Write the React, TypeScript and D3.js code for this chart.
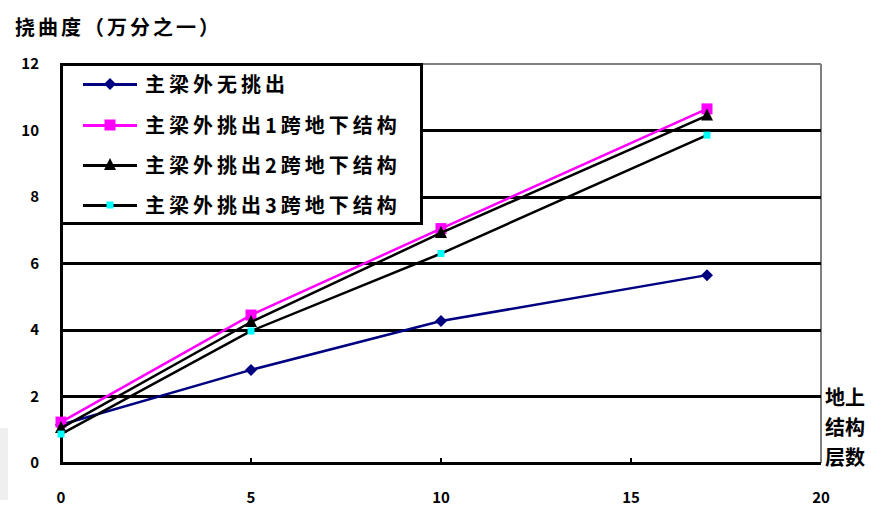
import React from "react";
import * as d3 from "d3";

// Deflection ratio of the main girder vs. number of storeys above ground
const xValues = [0, 5, 10, 17];
const seriesNames = [
  "主梁外无挑出",
  "主梁外挑出1跨地下结构",
  "主梁外挑出2跨地下结构",
  "主梁外挑出3跨地下结构",
];
const noCantilever = [1.15, 2.8, 4.27, 5.65];
const cantilever1 = [1.23, 4.45, 7.05, 10.65];
const cantilever2 = [1.05, 4.24, 6.92, 10.45];
const cantilever3 = [0.87, 3.97, 6.3, 9.86];

const xTicks = [0, 5, 10, 15, 20];
const xTickLabels = ["0", "5", "10", "15", "20"];
const yTicks = [0, 2, 4, 6, 8, 10, 12];
const yTitle = "挠曲度（万分之一）";
const xTitleLines = ["地上", "结构", "层数"];

const W = 871;
const H = 506;
const FONT = "'Noto Sans CJK SC', 'Noto Sans', sans-serif";

type Marker = "diamond" | "square" | "triangle" | "smallsquare";
const styles: { line: string; fill: string; marker: Marker }[] = [
  { line: "#000080", fill: "#000080", marker: "diamond" },
  { line: "#ff00ff", fill: "#ff00ff", marker: "square" },
  { line: "#000000", fill: "#000000", marker: "triangle" },
  { line: "#000000", fill: "#00ffff", marker: "smallsquare" },
];

function MarkerShape({ kind, cx, cy, fill }: { kind: Marker; cx: number; cy: number; fill: string }) {
  if (kind === "diamond") {
    const s = 6;
    return <path d={`M${cx},${cy - s}L${cx + s},${cy}L${cx},${cy + s}L${cx - s},${cy}Z`} fill={fill} />;
  }
  if (kind === "square") {
    const s = 5.5;
    return <rect x={cx - s} y={cy - s} width={s * 2} height={s * 2} fill={fill} />;
  }
  if (kind === "triangle") {
    const s = 6;
    return <path d={`M${cx},${cy - s - 1}L${cx + s},${cy + s - 1}L${cx - s},${cy + s - 1}Z`} fill={fill} />;
  }
  const s = 3.5;
  return <rect x={cx - s} y={cy - s} width={s * 2} height={s * 2} fill={fill} />;
}

export default function App() {
  const x = d3.scaleLinear().domain([0, 20]).range([61, 821]);
  const y = d3.scaleLinear().domain([0, 12]).range([463, 64]);
  const data = [noCantilever, cantilever1, cantilever2, cantilever3];

  const line = d3
    .line<number>()
    .x((_, i) => x(xValues[i]))
    .y((d) => y(d));

  const legendRows = [84, 125, 165, 205];

  return (
    <svg
      width={W}
      height={H}
      style={{ position: "absolute", left: 0, top: 0, background: "#fff" }}
      fontFamily={FONT}
    >
      <rect x={0} y={0} width={W} height={H} fill="#fff" />
      <rect x={0} y={428} width={8} height={72} fill="#efefef" />

      {/* plot frame: grey top/right edges */}
      <line x1={x(0)} x2={x(20)} y1={y(12)} y2={y(12)} stroke="#808080" strokeWidth={2} shapeRendering="crispEdges" />
      <line x1={x(20)} x2={x(20)} y1={y(12)} y2={y(0)} stroke="#808080" strokeWidth={2} shapeRendering="crispEdges" />

      {/* horizontal gridlines */}
      {yTicks.slice(1, -1).map((t) => (
        <line key={t} x1={x(0)} x2={x(20)} y1={y(t)} y2={y(t)} stroke="#000" strokeWidth={3} shapeRendering="crispEdges" />
      ))}

      {/* axes */}
      <line x1={x(0)} x2={x(0)} y1={y(12)} y2={y(0) + 1.5} stroke="#000" strokeWidth={3} shapeRendering="crispEdges" />
      <line x1={x(0)} x2={x(20)} y1={y(0)} y2={y(0)} stroke="#000" strokeWidth={3} shapeRendering="crispEdges" />
      <line x1={x(0)} x2={x(0) + 8} y1={y(12)} y2={y(12)} stroke="#000" strokeWidth={3} shapeRendering="crispEdges" />
      {xTicks.slice(1, -1).map((t) => (
        <line key={t} x1={x(t)} x2={x(t)} y1={y(0)} y2={y(0) - 5} stroke="#000" strokeWidth={1.5} shapeRendering="crispEdges" />
      ))}

      {/* y tick labels */}
      {yTicks.map((t) => (
        <text key={t} x={39} y={y(t) + 5} textAnchor="end" fontSize={15} fontWeight={700} fill="#000">
          {t}
        </text>
      ))}

      {/* x tick labels */}
      {xTicks.map((t, i) => (
        <text key={t} x={x(t)} y={503} textAnchor="middle" fontSize={15} fontWeight={700} fill="#000">
          {xTickLabels[i]}
        </text>
      ))}

      {/* titles */}
      <text x={15} y={35} fontSize={20} fontWeight={700} letterSpacing={3} fill="#000">
        {yTitle}
      </text>
      {xTitleLines.map((s, i) => (
        <text key={s} x={825} y={405 + i * 30} fontSize={20} fontWeight={700} fill="#000">
          {s}
        </text>
      ))}

      {/* series */}
      {data.map((vals, si) => (
        <g key={si}>
          <path d={line(vals) || ""} fill="none" stroke={styles[si].line} strokeWidth={2.5} />
          {vals.map((v, i) => (
            <MarkerShape key={i} kind={styles[si].marker} cx={x(xValues[i])} cy={y(v)} fill={styles[si].fill} />
          ))}
        </g>
      ))}

      {/* legend */}
      <rect x={61} y={64} width={360} height={159} fill="#fff" stroke="#000" strokeWidth={3} shapeRendering="crispEdges" />
      {seriesNames.map((name, i) => (
        <g key={name}>
          <line x1={83} x2={137} y1={legendRows[i]} y2={legendRows[i]} stroke={styles[i].line} strokeWidth={3} shapeRendering="crispEdges" />
          <MarkerShape kind={styles[i].marker} cx={110} cy={legendRows[i]} fill={styles[i].fill} />
          <text x={145} y={legendRows[i] + 8} fontSize={20} fontWeight={700} letterSpacing={4} fill="#000">
            {name}
          </text>
        </g>
      ))}
    </svg>
  );
}
